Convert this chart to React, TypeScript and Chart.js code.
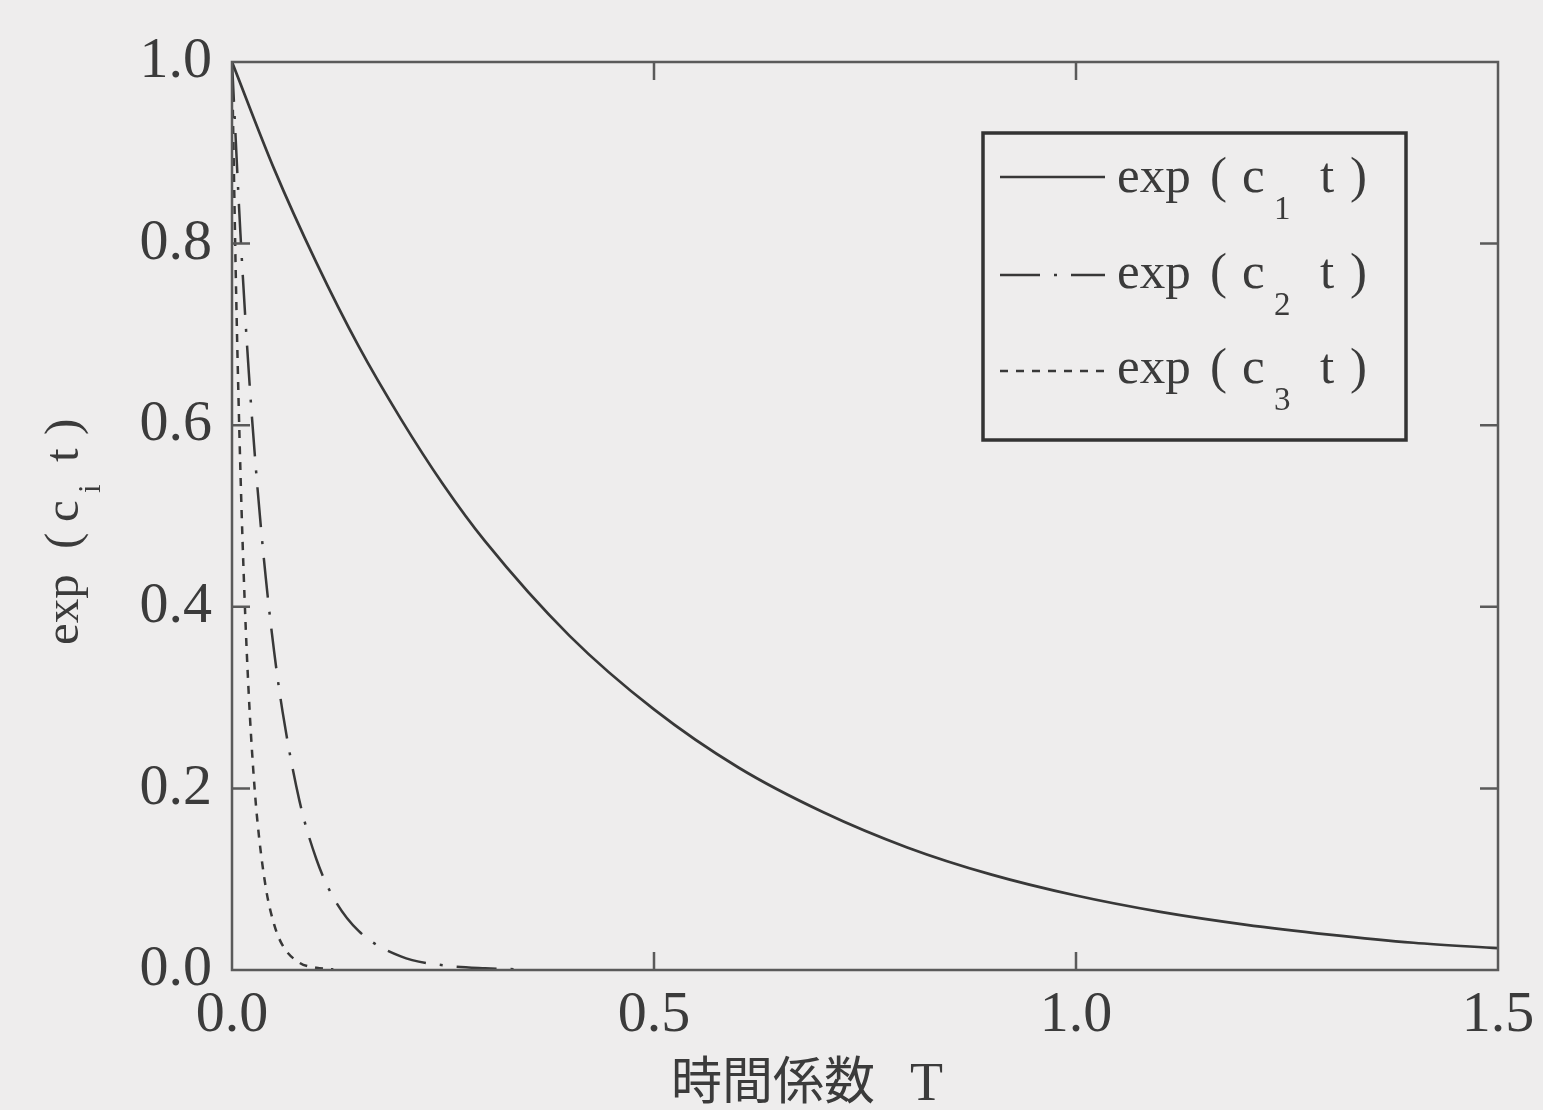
import { useEffect, useRef } from 'react';
import { Chart, registerables } from 'chart.js';

Chart.register(...registerables);

// ---- data ----
const T1 = [0, 0.05, 0.1, 0.15, 0.2, 0.25, 0.3, 0.4, 0.5, 0.6, 0.7, 0.8, 0.9, 1.0, 1.1, 1.2, 1.3, 1.4, 1.5];
const V1 = [1.0, 0.882, 0.779, 0.687, 0.607, 0.535, 0.472, 0.368, 0.287, 0.223, 0.174, 0.135, 0.105, 0.082, 0.064, 0.05, 0.039, 0.03, 0.024];

const T2 = [0, 0.01, 0.02, 0.03, 0.04, 0.05, 0.06, 0.08, 0.1, 0.12, 0.15, 0.2, 0.25, 0.3, 0.35];
const V2 = [1.0, 0.811, 0.657, 0.533, 0.432, 0.35, 0.284, 0.186, 0.122, 0.08, 0.043, 0.015, 0.0052, 0.0018, 0.0006];

const T3 = [0, 0.005, 0.01, 0.015, 0.02, 0.025, 0.03, 0.04, 0.05, 0.06, 0.08, 0.1, 0.12];
const V3 = [1.0, 0.741, 0.549, 0.407, 0.301, 0.223, 0.165, 0.091, 0.05, 0.027, 0.008, 0.0025, 0.0007];

const SERIES_SUBSCRIPTS = ['1', '2', '3'];
const SERIES_LABELS = ['exp ( c1 t )', 'exp ( c2 t )', 'exp ( c3 t )'];
const X_TITLE_MAIN = '時間係数';
const X_TITLE_VAR = 'T';
const Y_TITLE_SUB = 'i';
const X_TICK_STEP = 0.5;
const Y_TICK_STEP = 0.2;

const INK = '#3b3b3b';
const FRAME = '#5a5a5a';
const BG = '#eeeded';
const SERIF = '"Liberation Serif", "Times New Roman", serif';
const CJK = '"Noto Sans CJK JP", sans-serif';

const toPoints = (xs: number[], ys: number[]) => xs.map((x, i) => ({ x, y: ys[i] }));

// draws "exp ( c_sub t )" piecewise starting at (0,0) in current transform
function drawExpLabel(ctx: CanvasRenderingContext2D, sub: string, size: number, offs: number[], subSize: number, subDrop: number) {
  ctx.font = `${size}px ${SERIF}`;
  ctx.fillText('exp', 0, 0);
  ctx.fillText('(', offs[0], 0);
  ctx.fillText('c', offs[1], 0);
  ctx.font = `${subSize}px ${SERIF}`;
  ctx.fillText(sub, offs[2], subDrop);
  ctx.font = `${size}px ${SERIF}`;
  ctx.fillText('t', offs[3], 0);
  ctx.fillText(')', offs[4], 0);
}

const decorPlugin = {
  id: 'decor',
  beforeDraw(chart: any) {
    const { ctx, width, height } = chart;
    ctx.save();
    ctx.fillStyle = BG;
    ctx.fillRect(0, 0, width, height);
    ctx.restore();
  },
  afterDatasetsDraw(chart: any) {
    const { ctx, chartArea: a, scales } = chart;
    const xs = scales.x;
    const ys = scales.y;
    ctx.save();
    // frame
    ctx.strokeStyle = FRAME;
    ctx.lineWidth = 2.5;
    ctx.strokeRect(a.left, a.top, a.right - a.left, a.bottom - a.top);
    // inward ticks
    const tl = 18;
    ctx.beginPath();
    xs.ticks.forEach((t: any) => {
      const px = xs.getPixelForValue(t.value);
      if (px <= a.left + 1 || px >= a.right - 1) return;
      ctx.moveTo(px, a.bottom);
      ctx.lineTo(px, a.bottom - tl);
      ctx.moveTo(px, a.top);
      ctx.lineTo(px, a.top + tl);
    });
    ys.ticks.forEach((t: any) => {
      const py = ys.getPixelForValue(t.value);
      if (py <= a.top + 1 || py >= a.bottom - 1) return;
      ctx.moveTo(a.left, py);
      ctx.lineTo(a.left + tl, py);
      ctx.moveTo(a.right, py);
      ctx.lineTo(a.right - tl, py);
    });
    ctx.stroke();

    // legend
    ctx.lineWidth = 3.5;
    ctx.strokeStyle = '#333';
    ctx.strokeRect(983, 133, 423, 307);
    const rowsLine = [177, 275, 371];
    const rowsText = [192, 288, 383];
    chart.data.datasets.forEach((ds: any, i: number) => {
      ctx.save();
      ctx.strokeStyle = ds.borderColor;
      ctx.lineWidth = ds.borderWidth;
      ctx.setLineDash(ds.borderDash || []);
      ctx.beginPath();
      ctx.moveTo(1000, rowsLine[i]);
      ctx.lineTo(1105, rowsLine[i]);
      ctx.stroke();
      ctx.restore();
      ctx.save();
      ctx.fillStyle = INK;
      ctx.textBaseline = 'alphabetic';
      ctx.translate(1117, rowsText[i]);
      drawExpLabel(ctx, SERIES_SUBSCRIPTS[i], 51, [93, 125, 157, 203, 233], 33, 27);
      ctx.restore();
    });

    // y title (rotated)
    ctx.save();
    ctx.fillStyle = INK;
    ctx.textBaseline = 'alphabetic';
    ctx.translate(78, 645);
    ctx.rotate(-Math.PI / 2);
    drawExpLabel(ctx, Y_TITLE_SUB, 49, [96, 123, 152, 183, 210], 31, 22);
    ctx.restore();

    // x title
    ctx.fillStyle = INK;
    ctx.textBaseline = 'alphabetic';
    ctx.font = `51px ${CJK}`;
    ctx.fillText(X_TITLE_MAIN, 671, 1099);
    ctx.font = `54px ${SERIF}`;
    ctx.fillText(X_TITLE_VAR, 910, 1100);
    ctx.restore();
  },
};

export default function App() {
  const ref = useRef<HTMLCanvasElement | null>(null);
  useEffect(() => {
    if (!ref.current) return;
    const chart = new Chart(ref.current, {
      type: 'line',
      data: {
        datasets: [
          {
            label: SERIES_LABELS[0],
            data: toPoints(T1, V1),
            borderColor: '#383838',
            borderWidth: 2.7,
            pointRadius: 0,
            cubicInterpolationMode: 'monotone',
          },
          {
            label: SERIES_LABELS[1],
            data: toPoints(T2, V2),
            borderColor: '#383838',
            borderWidth: 2.5,
            borderDash: [40, 14, 3, 14],
            pointRadius: 0,
            cubicInterpolationMode: 'monotone',
          },
          {
            label: SERIES_LABELS[2],
            data: toPoints(T3, V3),
            borderColor: '#383838',
            borderWidth: 2.5,
            borderDash: [8, 8],
            pointRadius: 0,
            cubicInterpolationMode: 'monotone',
          },
        ],
      },
      options: {
        animation: false,
        responsive: false,
        maintainAspectRatio: false,
        layout: { padding: { top: 62, right: 45, left: 0, bottom: 0 } },
        plugins: { legend: { display: false }, tooltip: { enabled: false } },
        scales: {
          x: {
            type: 'linear',
            min: 0,
            max: 1.5,
            grid: { display: false },
            border: { display: false },
            ticks: {
              stepSize: X_TICK_STEP,
              padding: 3,
              color: INK,
              font: { family: SERIF, size: 58 },
              maxRotation: 0,
              callback: (v: any) => Number(v).toFixed(1),
            },
            afterFit: (s: any) => {
              s.height = 140;
            },
          },
          y: {
            type: 'linear',
            min: 0,
            max: 1,
            grid: { display: false },
            border: { display: false },
            ticks: {
              stepSize: Y_TICK_STEP,
              padding: 12,
              color: INK,
              font: { family: SERIF, size: 58 },
              callback: (v: any) => Number(v).toFixed(1),
            },
            afterFit: (s: any) => {
              s.width = 232;
            },
          },
        },
      } as any,
      plugins: [decorPlugin],
    });
    return () => chart.destroy();
  }, []);
  return (
    <div style={{ position: 'fixed', left: 0, top: 0, width: 1543, height: 1110, background: BG }}>
      <canvas ref={ref} width={1543} height={1110} style={{ display: 'block', width: 1543, height: 1110 }} />
    </div>
  );
}
